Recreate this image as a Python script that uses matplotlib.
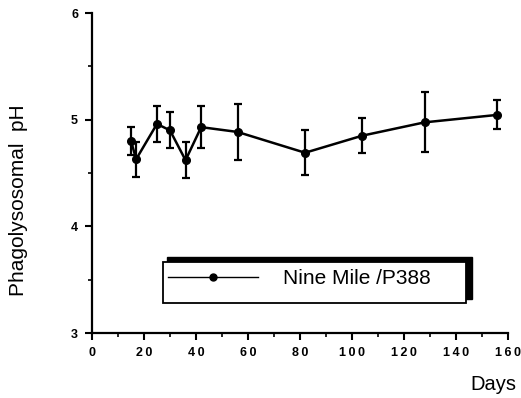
import numpy as np
import matplotlib
matplotlib.use('Agg')
import matplotlib.pyplot as plt
from matplotlib.lines import Line2D
from matplotlib.patches import Rectangle
from matplotlib.ticker import FuncFormatter

plt.rcParams['font.family'] = ['Liberation Sans', 'DejaVu Sans']

# Phagolysosomal pH over time
days = [15, 17, 25, 30, 36, 42, 56, 82, 104, 128, 156]
ph = [4.80, 4.63, 4.96, 4.90, 4.62, 4.93, 4.885, 4.69, 4.85, 4.975, 5.045]
ph_err = [0.135, 0.165, 0.17, 0.17, 0.17, 0.195, 0.26, 0.21, 0.165, 0.28, 0.135]
series_label = 'Nine Mile /P388'

fig = plt.figure(figsize=(5.21, 3.98), dpi=100)
ax = fig.add_axes([0.1766, 0.1633, 0.798, 0.804])

ax.errorbar(days, ph, yerr=ph_err, color='black', lw=1.8, marker='o', ms=5.5,
            elinewidth=1.6, capsize=3, capthick=1.6)

ax.set_xlim(0, 160)
ax.set_ylim(3, 6)
ax.set_xticks(np.arange(0, 161, 20))
ax.set_xticks(np.arange(10, 160, 20), minor=True)
ax.set_yticks([3, 4, 5, 6])
ax.set_yticks([3.5, 4.5, 5.5], minor=True)

# widely spaced digits like the original typesetting
spaced = FuncFormatter(lambda v, pos: '\u2009'.join(str(int(round(v)))))
ax.xaxis.set_major_formatter(spaced)
ax.yaxis.set_major_formatter(spaced)

for s in ['top', 'right']:
    ax.spines[s].set_visible(False)
for s in ['left', 'bottom']:
    ax.spines[s].set_linewidth(1.6)

ax.tick_params(which='major', length=5, width=1.5, labelsize=9, pad=5)
ax.tick_params(which='minor', length=3, width=1.2)
for lab in ax.get_xticklabels() + ax.get_yticklabels():
    lab.set_fontweight('bold')

fig.text(0.036, 0.497, 'Phagolysosomal  pH', rotation=90, ha='center', va='center',
         fontsize=15)
fig.text(0.947, 0.033, 'Days', ha='center', va='center', fontsize=14.5)

# legend box with heavy top/right edge
fig.patches.append(Rectangle((167/521, 99/398), 305/521, 42/398, transform=fig.transFigure,
                             facecolor='black', edgecolor='black', zorder=3))
fig.patches.append(Rectangle((163/521, 95/398), 303/521, 41/398, transform=fig.transFigure,
                             facecolor='white', edgecolor='black', lw=1.3, zorder=4))
handle = Line2D([], [], color='black', lw=1.0, marker='o', ms=5)
leg = fig.legend([handle], [series_label], loc='center left',
                 bbox_to_anchor=(160/521, 119/398), frameon=False, fontsize=15,
                 handlelength=4.3, handletextpad=1.2, borderaxespad=0)
leg.set_zorder(5)

fig.savefig('out.png', dpi=100)
